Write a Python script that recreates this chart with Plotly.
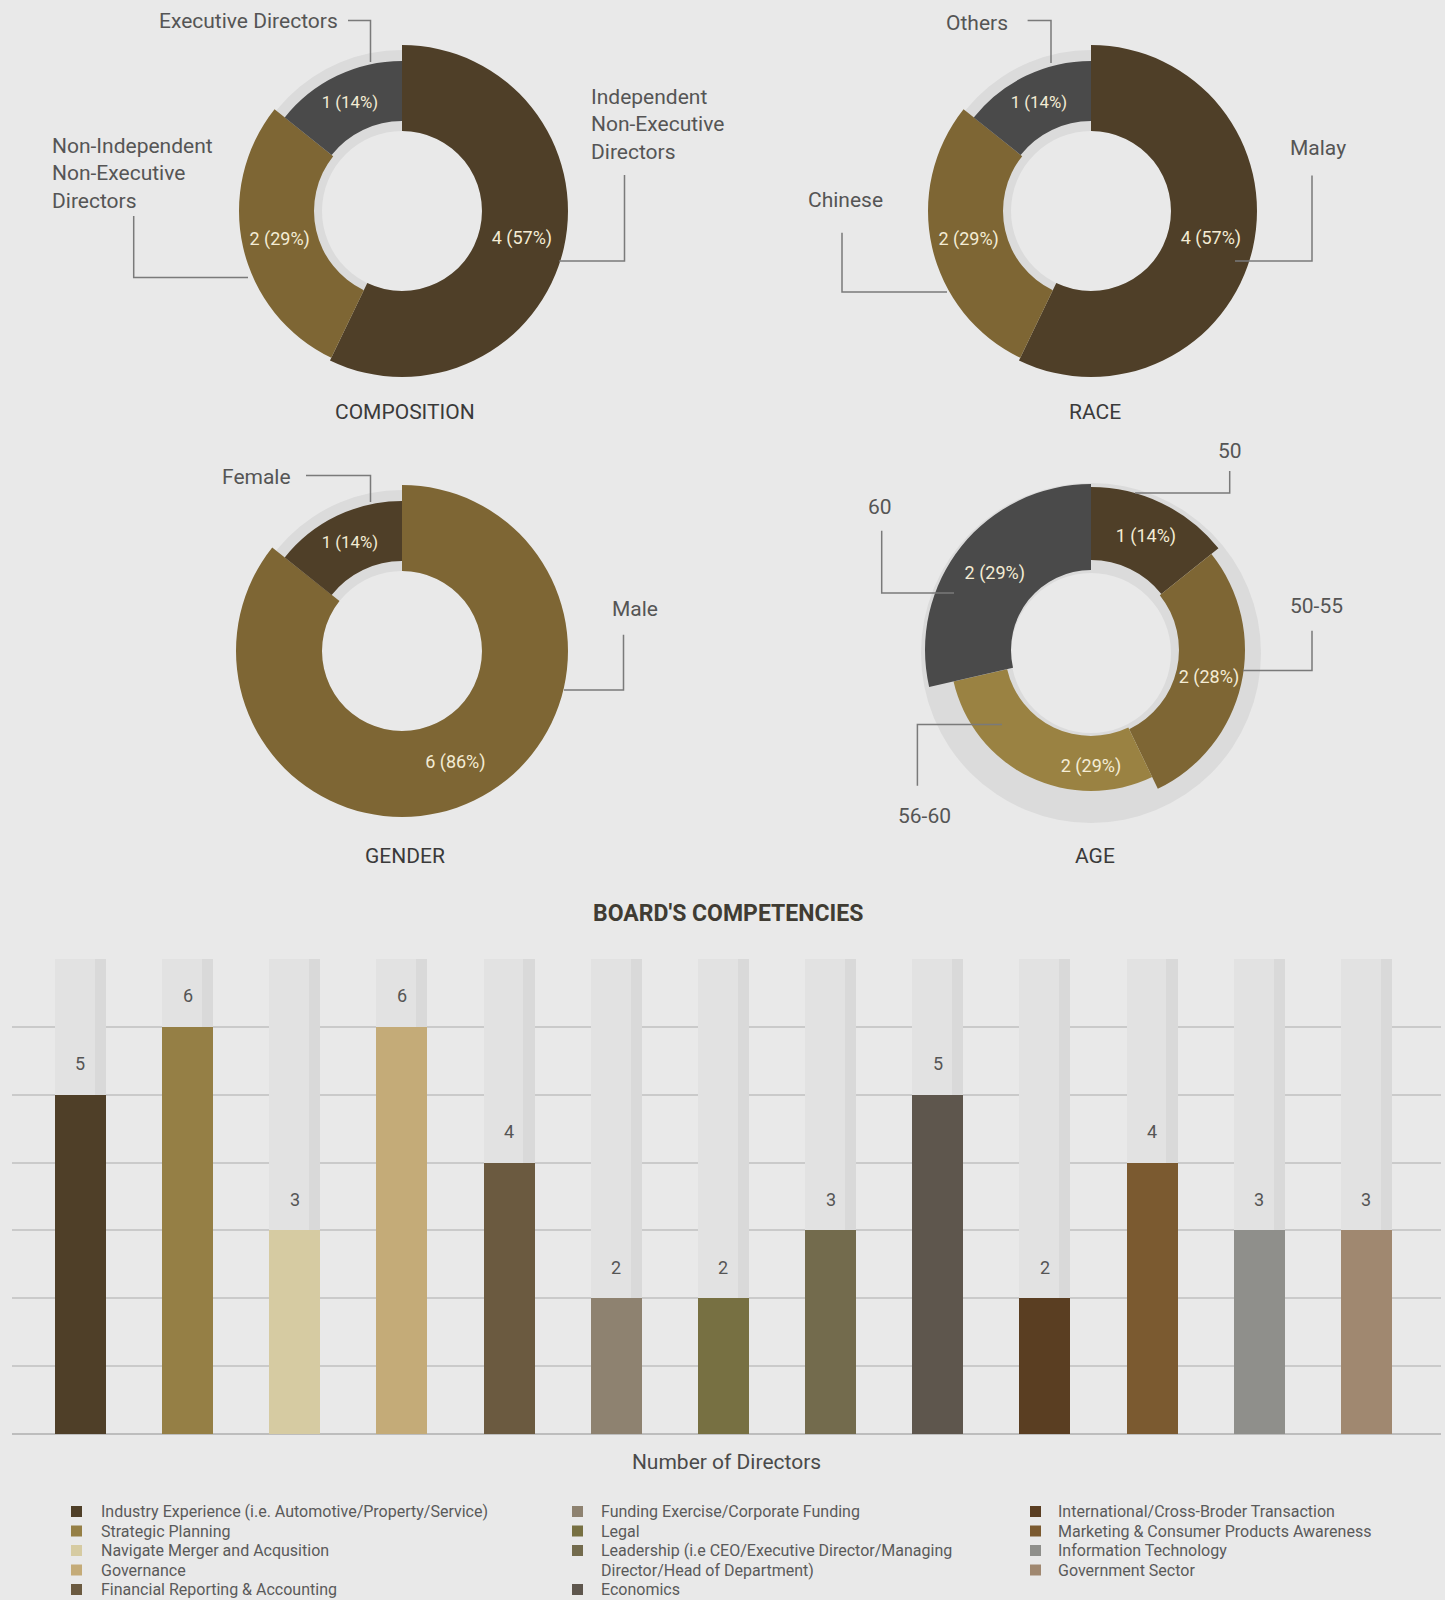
import plotly.graph_objects as go

W, H = 1445, 1600
BG = "#e9e9e9"
FONT = "Roboto"

# ---- Board profile data ----
comp_labels = ["Independent Non-Executive Directors", "Non-Independent Non-Executive Directors", "Executive Directors"]
comp_values = [4, 2, 1]
comp_pct = [57, 29, 14]

race_labels = ["Malay", "Chinese", "Others"]
race_values = [4, 2, 1]
race_pct = [57, 29, 14]

gender_labels = ["Male", "Female"]
gender_values = [6, 1]
gender_pct = [86, 14]

age_labels = ["50", "50-55", "56-60", "60"]
age_values = [1, 2, 2, 2]
age_pct = [14, 28, 29, 29]

# ---- Board competencies data ----
comp_names = [
    "Industry Experience (i.e. Automotive/Property/Service)",
    "Strategic Planning",
    "Navigate Merger and Acqusition",
    "Governance",
    "Financial Reporting & Accounting",
    "Funding Exercise/Corporate Funding",
    "Legal",
    "Leadership (i.e CEO/Executive Director/Managing<br>Director/Head of Department)",
    "Economics",
    "International/Cross-Broder Transaction",
    "Marketing & Consumer Products Awareness",
    "Information Technology",
    "Government Sector",
]
comp_counts = [5, 6, 3, 6, 4, 2, 2, 3, 5, 2, 4, 3, 3]
scale_max = 7

bar_colors = ["#4f3f28", "#957f45", "#d6cba2", "#c4ab78", "#6b5a40", "#8e8270", "#777042",
              "#736b4d", "#5e564d", "#5a3e22", "#7b5a30", "#8f8f8b", "#a08870"]


def px(x):
    return x / W


def py(y):
    return 1 - y / H


def dom(cx, cy, r):
    return dict(x=[px(cx - r), px(cx + r)], y=[py(cy + r), py(cy - r)])


fig = go.Figure()
shapes = []
annotations = []


def donut(cx, cy, labels, values, pct, colors, r_out, r_in, shadow_r, shadow_dy=0):
    # soft backing ring behind the slices
    fig.add_trace(go.Pie(
        values=[1], labels=["_"], marker=dict(colors=["#dbdbdb"], line=dict(width=0)),
        hole=min(r_in) / shadow_r, domain=dom(cx, cy + shadow_dy, shadow_r),
        textinfo="none", sort=False, showlegend=False, hoverinfo="skip"))
    texts = [f"{v} ({p}%)" for v, p in zip(values, pct)]
    for i in range(len(values)):
        fig.add_trace(go.Pie(
            values=values, labels=labels,
            marker=dict(colors=[colors[j] if j == i else "rgba(0,0,0,0)" for j in range(len(values))],
                        line=dict(width=0)),
            hole=r_in[i] / r_out[i], domain=dom(cx, cy, r_out[i]),
            text=[texts[j] if j == i else "" for j in range(len(values))],
            textinfo="text",
            textposition=["inside" if j == i else "none" for j in range(len(values))],
            insidetextorientation="horizontal",
            insidetextfont=dict(family=FONT, size=18, color="#f4ecd4"),
            sort=False, direction="clockwise", rotation=0,
            showlegend=False, hoverinfo="skip"))


BROWN, OLIVE, GOLD, GREY = "#4f3f28", "#7e6634", "#9a8242", "#4a4a4a"

donut(402, 211, comp_labels, comp_values, comp_pct, [BROWN, OLIVE, GREY],
      [166, 163, 150], [80, 88, 90], 161)
donut(1091, 211, race_labels, race_values, race_pct, [BROWN, OLIVE, GREY],
      [166, 163, 150], [80, 88, 90], 161)
donut(402, 651, gender_labels, gender_values, gender_pct, [OLIVE, BROWN],
      [166, 150], [80, 90], 161)
donut(1091, 650, age_labels, age_values, age_pct, [BROWN, OLIVE, GOLD, GREY],
      [163, 154, 141, 166], [90, 88, 86, 80], 170, 3)


def leader(points):
    d = "M " + " L ".join(f"{px(x)},{py(y)}" for x, y in points)
    shapes.append(dict(type="path", path=d, xref="paper", yref="paper",
                       line=dict(color="#7a7a7a", width=1.5)))


def label(text, x, y, xanchor="center", size=21, color="#555555"):
    annotations.append(dict(text=text, x=px(x), y=py(y), xref="paper", yref="paper",
                            xanchor=xanchor, yanchor="middle", showarrow=False, align="left",
                            font=dict(family=FONT, size=size, color=color)))


TITLE_SIZE, TITLE_COLOR = 21, "#3a3a3a"

# composition labels
label(comp_labels[2], 340, 21, xanchor="right")
leader([(348, 20.5), (370.5, 20.5), (370.5, 62)])
label("Independent<br>Non-Executive<br>Directors", 589, 124.5, xanchor="left")
leader([(624.5, 175), (624.5, 261), (559, 261)])
label("Non-Independent<br>Non-Executive<br>Directors", 50, 173.5, xanchor="left")
leader([(133.7, 216), (133.7, 277.6), (248, 277.6)])
label("COMPOSITION", 405, 412, size=TITLE_SIZE, color=TITLE_COLOR)

# race labels
label(race_labels[2], 976.5, 23.5)
leader([(1027.6, 20.5), (1051, 20.5), (1051, 63)])
label(race_labels[0], 1317.5, 148)
leader([(1312, 175.5), (1312, 261), (1235, 261)])
label(race_labels[1], 845, 200)
leader([(842, 232.7), (842, 292), (947, 292)])
label("RACE", 1095, 412, size=TITLE_SIZE, color=TITLE_COLOR)

# gender labels
label(gender_labels[1], 256, 477)
leader([(306, 475.5), (370.5, 475.5), (370.5, 502)])
label(gender_labels[0], 635, 608.5)
leader([(623.5, 634.7), (623.5, 690), (564, 690)])
label("GENDER", 405, 856, size=TITLE_SIZE, color=TITLE_COLOR)

# age labels
label(age_labels[0], 1230, 451)
leader([(1229.7, 471), (1229.7, 493), (1135, 493)])
label(age_labels[1], 1316.5, 606)
leader([(1312, 630.7), (1312, 670.5), (1243, 670.5)])
label(age_labels[3], 880, 507)
leader([(881.7, 530.7), (881.7, 593), (954, 593)])
label(age_labels[2], 924.6, 816.4)
leader([(917.4, 785.8), (917.4, 724.6), (1002, 724.6)])
label("AGE", 1095, 856, size=TITLE_SIZE, color=TITLE_COLOR)

# ---- competencies bar chart ----
xs = list(range(len(comp_counts)))
BW = 0.476
fig.add_trace(go.Bar(x=xs, y=[scale_max] * len(xs), width=BW, marker=dict(color="#e2e2e2", line=dict(width=0)),
                     showlegend=False, hoverinfo="skip"))
fig.add_trace(go.Bar(x=xs, y=[scale_max] * len(xs), width=BW * 0.22, offset=BW / 2 - BW * 0.22,
                     marker=dict(color="#d9d9d9", line=dict(width=0)), showlegend=False, hoverinfo="skip"))
fig.add_trace(go.Bar(x=xs, y=comp_counts, width=BW, marker=dict(color=bar_colors, line=dict(width=0)),
                     showlegend=False, hoverinfo="skip"))

for i, v in enumerate(comp_counts):
    annotations.append(dict(x=i, y=v, xref="x", yref="y", text=str(v), showarrow=False,
                            yshift=31, font=dict(family=FONT, size=18, color="#555555")))

label("<b>BOARD'S COMPETENCIES</b>", 727.6, 913.5, size=23, color="#403c33")

# legend, three columns
legend_cols = [(71, 99, [0, 1, 2, 3, 4], [0, 1, 2, 3, 4]),
               (572, 599, [5, 6, 7, 8], [0, 1, 2, 4]),
               (1030, 1056, [9, 10, 11, 12], [0, 1, 2, 3])]
row_y = [1511.5, 1531, 1550.5, 1570, 1589.5]
for sx, tx, idxs, rows in legend_cols:
    for k, r in zip(idxs, rows):
        y = row_y[r]
        shapes.append(dict(type="rect", xref="paper", yref="paper",
                           x0=px(sx), x1=px(sx + 11), y0=py(y + 5.5), y1=py(y - 5.5),
                           fillcolor=bar_colors[k], line=dict(width=0)))
        lines = comp_names[k].split("<br>")
        for m, t in enumerate(lines):
            label(t, tx, y + m * 19.5, xanchor="left", size=16, color="#5a5a5a")

fig.update_layout(
    width=W, height=H, margin=dict(l=0, r=0, t=0, b=0),
    paper_bgcolor=BG, plot_bgcolor=BG,
    barmode="overlay", bargap=0,
    font=dict(family=FONT, color="#555555"),
    shapes=shapes, annotations=annotations,
    xaxis=dict(domain=[px(12), px(1441)], range=[-0.638, 12.696], showgrid=False, zeroline=False,
               showticklabels=False, ticks="", fixedrange=True,
               title=dict(text="Number of Directors", font=dict(family=FONT, size=21, color="#4a4a4a"),
                          standoff=20)),
    yaxis=dict(domain=[py(1434), py(959)], range=[0, scale_max], dtick=1, showgrid=True,
               gridcolor="#cacaca", gridwidth=2, zeroline=True, zerolinecolor="#bdbdbd", zerolinewidth=2,
               showticklabels=False, ticks="", fixedrange=True),
)

fig.write_html("out.html")
